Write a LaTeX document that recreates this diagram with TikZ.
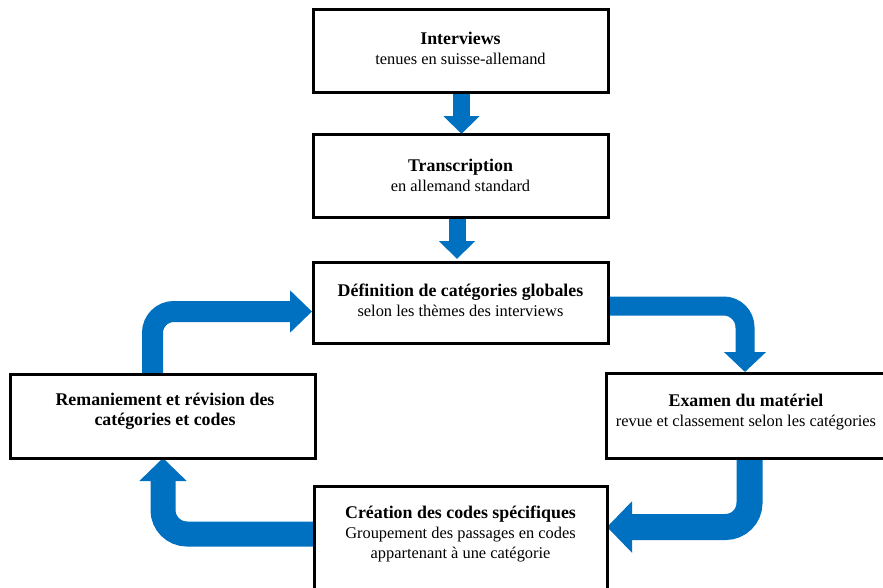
\documentclass[tikz,border=0pt]{standalone}
\usepackage{fontspec}
\setmainfont{Liberation Serif}
\usetikzlibrary{arrows.meta,backgrounds}
\definecolor{flowblue}{HTML}{0070C0}
\newcommand{\hd}[1]{{\fontsize{13.4}{15}\selectfont\bfseries #1}}
\begin{document}
\begin{tikzpicture}[x=0.75pt,y=-0.75pt,
  box/.style={draw=black, line width=2.25pt, inner sep=0pt, outer sep=0pt},
  txt/.style={align=center, inner sep=0pt, font=\fontsize{12.3}{15}\selectfont},
  flow/.style={draw=flowblue, line cap=butt},
  downarrow/.style={flow, line width=12.75pt, -{Triangle[width=26.25pt,length=13.5pt]}},
  loopsmall/.style={flow, rounded corners=16pt},
  loopbig/.style={flow, rounded corners=18pt}]
\useasboundingbox (0,0) rectangle (883,587);
\clip (0,0) rectangle (883,587);

% boxes
\node[box, minimum width=221.25pt, minimum height=62.25pt] (b1) at (460.5,50.5) {};
\node[box, minimum width=221.25pt, minimum height=62.25pt] (b2) at (460.5,175.5) {};
\node[box, minimum width=221.25pt, minimum height=60.75pt] (b3) at (460.5,302.5) {};
\node[box, minimum width=228.75pt, minimum height=63pt] (b4) at (162.5,416) {};
\node[box, minimum width=213.75pt, minimum height=63.75pt] (b5) at (748.5,415.5) {};
\node[box, minimum width=219.75pt, minimum height=100.5pt] (b6) at (460.5,553) {};

% texts
\node[txt] (t1) at (460.5,48) {\hd{Interviews}\\tenues en suisse-allemand};
\node[txt] (t2) at (460.5,175) {\hd{Transcription}\\en allemand standard};
\node[txt] (t3) at (460.5,300.5) {\hd{Définition de catégories globales}\\selon les thèmes des interviews};
\node[txt] (t4) at (165,411) {\hd{Remaniement et révision des}\\\hd{catégories et codes}};
\node[txt] (t5) at (746,412) {\hd{Examen du matériel}\\revue et classement selon les catégories};
\node[txt] (t6) at (460.5,534) {\hd{Création des codes spécifiques}\\Groupement des passages en codes\\appartenant à une catégorie};

% connectors
\begin{scope}[on background layer]
\draw[downarrow] ([shift={(1,0)}]b1.south) -- ([shift={(1,0)}]b2.north);
\draw[downarrow] ([shift={(-3.5,0)}]b2.south) -- ([shift={(-3.5,-3)}]b3.north);
\draw[loopsmall, line width=15.75pt, -{Triangle[width=30.75pt,length=16.5pt]}]
  ([shift={(-10,0)}]b4.north) |- ([shift={(-1,9)}]b3.west);
\draw[loopsmall, line width=14.25pt, -{Triangle[width=30.75pt,length=15pt]}]
  ([shift={(0,3.5)}]b3.east) -| ([shift={(-3.5,-1)}]b5.north);
\draw[loopbig, line width=19.5pt, -{Triangle[width=37.5pt,length=18.75pt]}]
  ([shift={(1,0)}]b5.south) |- (b6.east |- 0,527);
\draw[loopbig, line width=18.75pt, -{Triangle[width=34.5pt,length=17.25pt]}]
  (b6.west |- 0,534) -| ([shift={(0.5,0)}]b4.south);
\end{scope}
\end{tikzpicture}
\end{document}
